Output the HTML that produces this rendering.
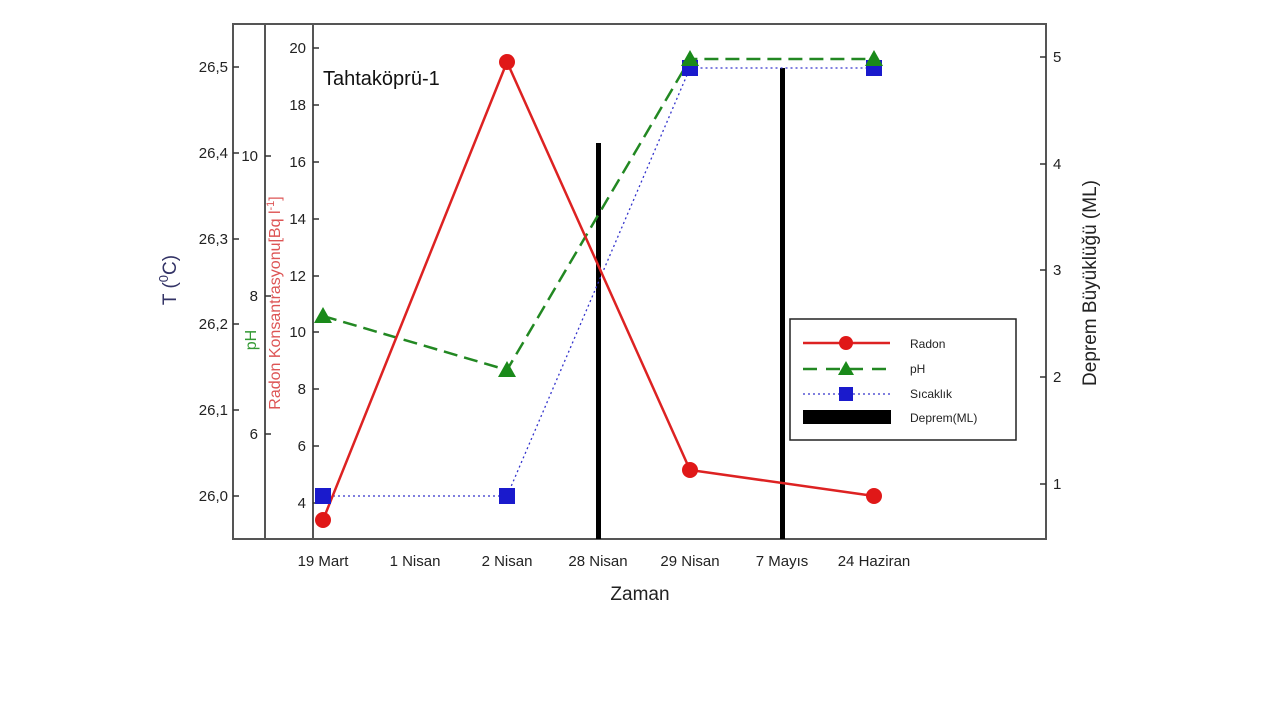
<!DOCTYPE html>
<html><head><meta charset="utf-8"><style>body{margin:0;background:#fff}svg{display:block}text{font-family:"Liberation Sans",sans-serif}</style></head>
<body>
<svg width="1280" height="720" viewBox="0 0 1280 720">
<g stroke="#555" stroke-width="2" fill="none">
<rect x="233" y="24" width="813" height="515"/>
<line x1="265" y1="24" x2="265" y2="539"/>
<line x1="313" y1="24" x2="313" y2="539"/>
</g>
<g stroke="#333" stroke-width="1.5">
<line x1="233" y1="67" x2="239" y2="67"/><line x1="233" y1="153" x2="239" y2="153"/><line x1="233" y1="239" x2="239" y2="239"/><line x1="233" y1="324" x2="239" y2="324"/><line x1="233" y1="410" x2="239" y2="410"/><line x1="233" y1="496" x2="239" y2="496"/>
<line x1="265" y1="156" x2="271" y2="156"/><line x1="265" y1="296" x2="271" y2="296"/><line x1="265" y1="434" x2="271" y2="434"/>
<line x1="313" y1="48" x2="319" y2="48"/><line x1="313" y1="105" x2="319" y2="105"/><line x1="313" y1="162" x2="319" y2="162"/><line x1="313" y1="219" x2="319" y2="219"/><line x1="313" y1="276" x2="319" y2="276"/><line x1="313" y1="332" x2="319" y2="332"/><line x1="313" y1="389" x2="319" y2="389"/><line x1="313" y1="446" x2="319" y2="446"/><line x1="313" y1="503" x2="319" y2="503"/>
<line x1="1040" y1="57" x2="1046" y2="57"/><line x1="1040" y1="164" x2="1046" y2="164"/><line x1="1040" y1="270" x2="1046" y2="270"/><line x1="1040" y1="377" x2="1046" y2="377"/><line x1="1040" y1="484" x2="1046" y2="484"/>
</g>
<g font-size="15" fill="#222" text-anchor="end">
<text x="228" y="72">26,5</text><text x="228" y="158">26,4</text><text x="228" y="244">26,3</text><text x="228" y="329">26,2</text><text x="228" y="415">26,1</text><text x="228" y="501">26,0</text>
<text x="258" y="161">10</text><text x="258" y="301">8</text><text x="258" y="439">6</text>
<text x="306" y="53">20</text><text x="306" y="110">18</text><text x="306" y="167">16</text><text x="306" y="224">14</text><text x="306" y="281">12</text><text x="306" y="337">10</text><text x="306" y="394">8</text><text x="306" y="451">6</text><text x="306" y="508">4</text>
</g>
<g font-size="15" fill="#222">
<text x="1053" y="62">5</text><text x="1053" y="169">4</text><text x="1053" y="275">3</text><text x="1053" y="382">2</text><text x="1053" y="489">1</text>
</g>
<g font-size="15" fill="#222" text-anchor="middle">
<text x="323" y="566">19 Mart</text><text x="415" y="566">1 Nisan</text><text x="507" y="566">2 Nisan</text><text x="598" y="566">28 Nisan</text><text x="690" y="566">29 Nisan</text><text x="782" y="566">7 Mayıs</text><text x="874" y="566">24 Haziran</text>
</g>
<text x="640" y="600" font-size="19" fill="#222" text-anchor="middle">Zaman</text>
<text x="323" y="85" font-size="20" fill="#111">Tahtaköprü-1</text>
<text transform="translate(176,280) rotate(-90)" font-size="19" fill="#336" text-anchor="middle">T (<tspan dy="-8" font-size="13">0</tspan><tspan dy="8">C)</tspan></text>
<text transform="translate(256,340) rotate(-90)" font-size="16" fill="#393" text-anchor="middle">pH</text>
<text transform="translate(280,303) rotate(-90)" font-size="16" fill="#d55" text-anchor="middle">Radon Konsantrasyonu[Bq l<tspan dy="-6" font-size="11">-1</tspan><tspan dy="6">]</tspan></text>
<text transform="translate(1096,283) rotate(-90)" font-size="19" fill="#222" text-anchor="middle">Deprem Büyüklüğü (ML)</text>
<rect x="596" y="143" width="5" height="396" fill="#000"/>
<rect x="780" y="68" width="5" height="471" fill="#000"/>
<polyline points="323,496 507,496 690,68 874,68" fill="none" stroke="#33c" stroke-width="1.3" stroke-dasharray="2,3"/>
<polyline points="323,316 507,370 690,59 874,59" fill="none" stroke="#282" stroke-width="2.5" stroke-dasharray="14,7"/>
<polyline points="323,520 507,62 690,470 874,496" fill="none" stroke="#d22" stroke-width="2.5"/>
<g fill="#1a1acc"><rect x="315" y="488" width="16" height="16"/><rect x="499" y="488" width="16" height="16"/><rect x="682" y="60" width="16" height="16"/><rect x="866" y="60" width="16" height="16"/></g>
<g fill="#1a8a1a"><polygon points="323,307 314,323 332,323"/><polygon points="507,361 498,377 516,377"/><polygon points="690,50 681,66 699,66"/><polygon points="874,50 865,66 883,66"/></g>
<g fill="#e01818"><circle cx="323" cy="520" r="8"/><circle cx="507" cy="62" r="8"/><circle cx="690" cy="470" r="8"/><circle cx="874" cy="496" r="8"/></g>
<rect x="790" y="319" width="226" height="121" fill="#fff" stroke="#222" stroke-width="1.5"/>
<line x1="803" y1="343" x2="890" y2="343" stroke="#d22" stroke-width="2.5"/><circle cx="846" cy="343" r="7" fill="#e01818"/>
<line x1="803" y1="369" x2="890" y2="369" stroke="#282" stroke-width="2.5" stroke-dasharray="14,9"/><polygon points="846,361 838,375 854,375" fill="#1a8a1a"/>
<line x1="803" y1="394" x2="890" y2="394" stroke="#33c" stroke-width="1.3" stroke-dasharray="2,3"/><rect x="839" y="387" width="14" height="14" fill="#1a1acc"/>
<rect x="803" y="410" width="88" height="14" fill="#000"/>
<g font-size="12" fill="#222"><text x="910" y="348">Radon</text><text x="910" y="373">pH</text><text x="910" y="398">Sıcaklık</text><text x="910" y="422">Deprem(ML)</text></g>
</svg>
</body></html>
